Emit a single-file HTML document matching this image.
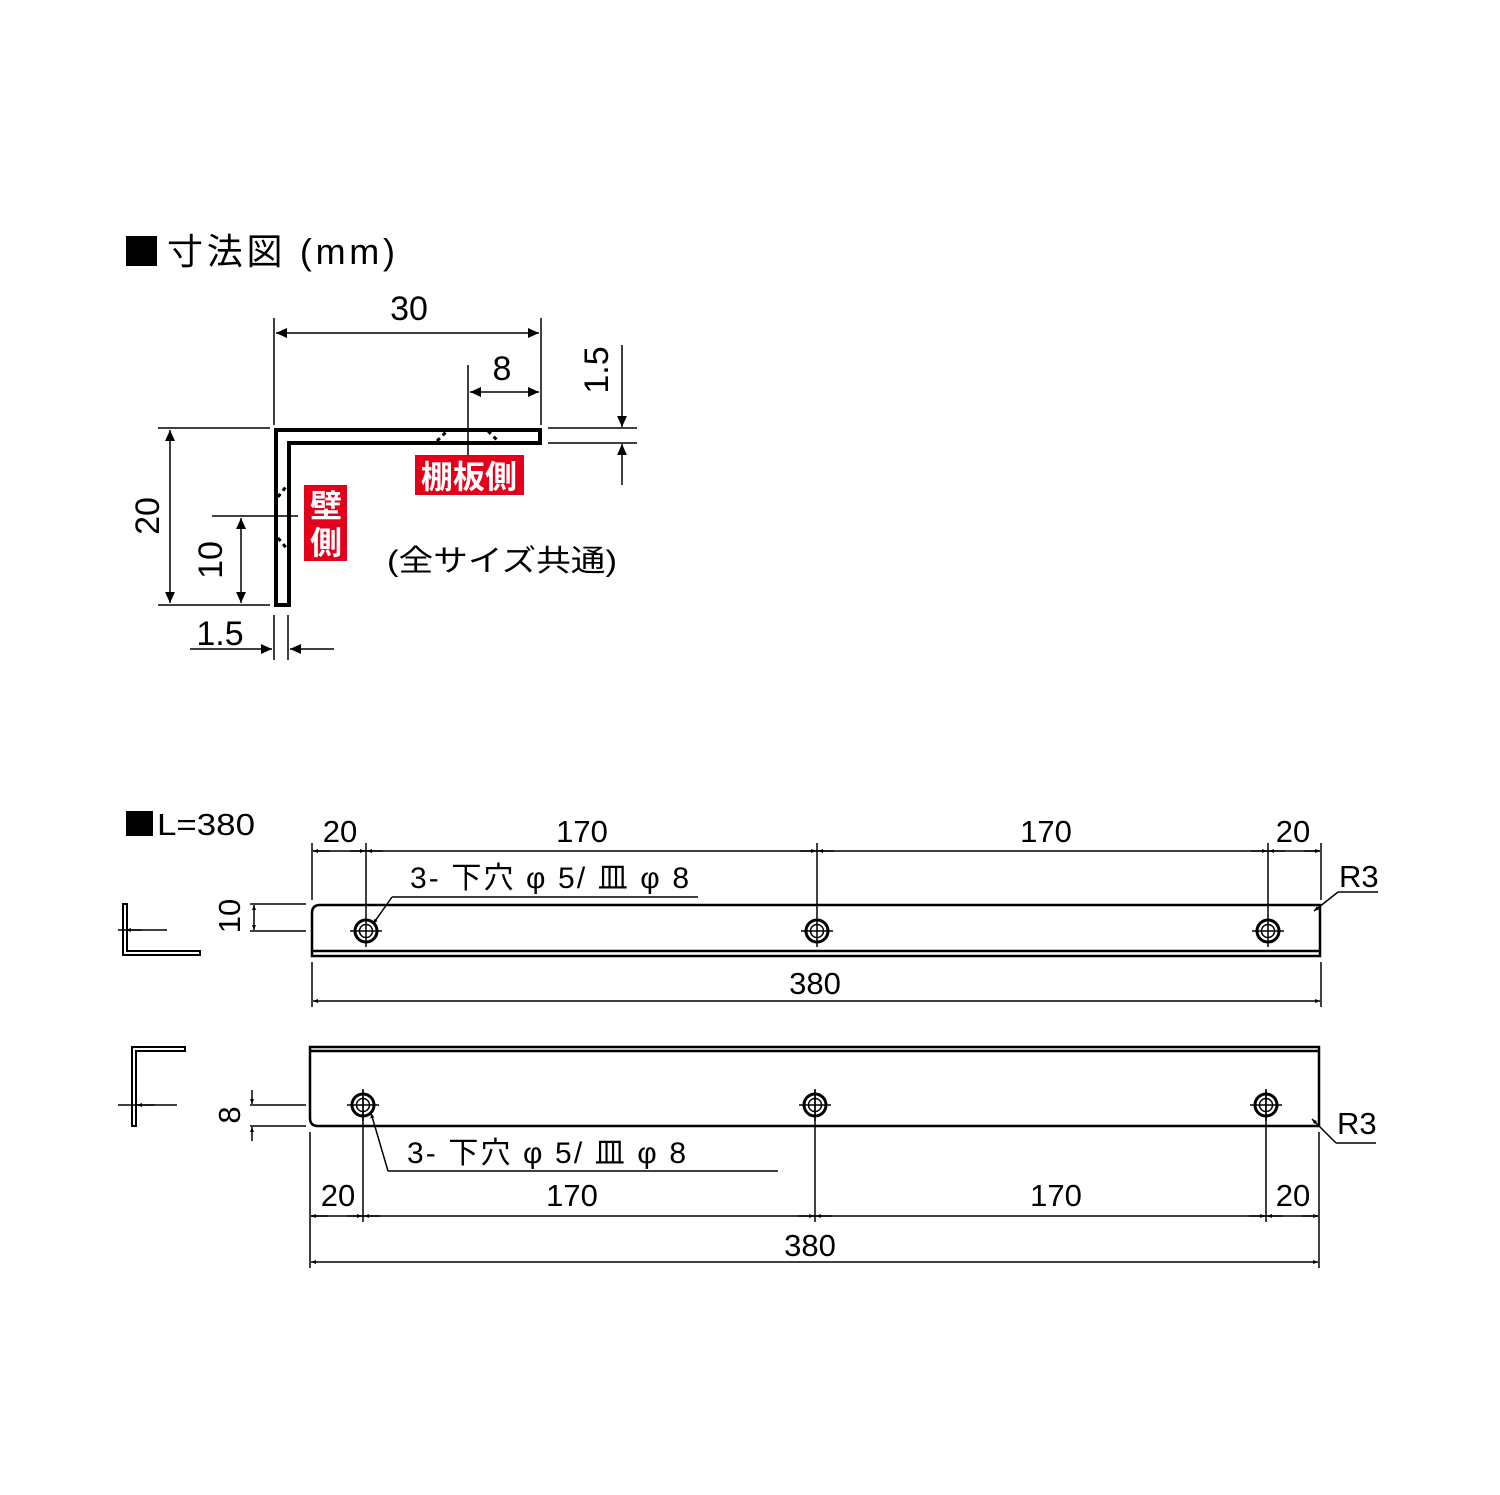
<!DOCTYPE html>
<html><head><meta charset="utf-8"><style>
html,body{margin:0;padding:0;background:#fff;}
svg{display:block;}
text{font-family:"Liberation Sans","Noto Sans CJK JP",sans-serif;fill:#000;}
</style></head><body>
<svg width="1500" height="1495" viewBox="0 0 1500 1495" xmlns="http://www.w3.org/2000/svg">
<defs>
<marker id="a" viewBox="0 0 10 10" refX="10" refY="5" markerWidth="22" markerHeight="11" markerUnits="userSpaceOnUse" orient="auto-start-reverse"><path d="M0,0.5 L10,5 L0,9.5 Z" fill="#000"/></marker>
<marker id="s" viewBox="0 0 10 10" refX="10" refY="5" markerWidth="12" markerHeight="5" markerUnits="userSpaceOnUse" orient="auto-start-reverse"><path d="M0,1 L10,5 L0,9 Z" fill="#000"/></marker>
</defs>
<!-- Title -->
<rect x="126" y="236" width="31" height="30" fill="#000"/>
<text x="167" y="264" font-size="36" textLength="228" lengthAdjust="spacing">寸法図 (mm)</text>

<!-- Top profile -->
<g stroke="#000" fill="none">
<path d="M276,430 H540 V443 H289 V605 H276 Z" stroke-width="4"/>
<g stroke-width="1.5">
<line x1="274" y1="318" x2="274" y2="425"/>
<line x1="541" y1="318" x2="541" y2="425"/>
<line x1="276" y1="333" x2="539" y2="333" marker-start="url(#a)" marker-end="url(#a)"/>
<line x1="468" y1="365" x2="468" y2="458"/>
<line x1="470" y1="392" x2="539" y2="392" marker-start="url(#a)" marker-end="url(#a)"/>
<line x1="548" y1="428" x2="637" y2="428"/>
<line x1="548" y1="443" x2="637" y2="443"/>
<line x1="622" y1="345" x2="622" y2="427" marker-end="url(#a)"/>
<line x1="622" y1="485" x2="622" y2="444" marker-end="url(#a)"/>
<line x1="158" y1="428" x2="270" y2="428"/>
<line x1="158" y1="605" x2="270" y2="605"/>
<line x1="170" y1="430" x2="170" y2="603" marker-start="url(#a)" marker-end="url(#a)"/>
<line x1="212" y1="516" x2="298" y2="516"/>
<line x1="241" y1="518" x2="241" y2="603" marker-start="url(#a)" marker-end="url(#a)"/>
<line x1="274" y1="615" x2="274" y2="660"/>
<line x1="288" y1="615" x2="288" y2="660"/>
<line x1="190" y1="649" x2="272" y2="649" marker-end="url(#a)"/>
<line x1="334" y1="649" x2="290" y2="649" marker-end="url(#a)"/>
</g>
<g stroke-width="3" stroke-dasharray="4,4">
<line x1="437" y1="441" x2="448" y2="430"/>
<line x1="488" y1="431" x2="499" y2="442"/>
<line x1="278" y1="497" x2="288" y2="484"/>
<line x1="278" y1="538" x2="288" y2="550"/>
</g>
</g>
<text x="409" y="320" font-size="34" text-anchor="middle">30</text>
<text x="502" y="380" font-size="34" text-anchor="middle">8</text>
<text transform="translate(608,370) rotate(-90)" font-size="34" text-anchor="middle">1.5</text>
<text transform="translate(159,516) rotate(-90)" font-size="34" text-anchor="middle">20</text>
<text transform="translate(222,560) rotate(-90)" font-size="34" text-anchor="middle">10</text>
<text x="220" y="645" font-size="34" text-anchor="middle">1.5</text>
<rect x="415" y="455" width="109" height="40" fill="#e2001a"/>
<text x="469" y="488" font-size="32" font-weight="bold" text-anchor="middle" style="fill:#fff">棚板側</text>
<rect x="304" y="485" width="43" height="76" fill="#e2001a"/>
<text x="326" y="517" font-size="32" font-weight="bold" text-anchor="middle" style="fill:#fff">壁</text>
<text x="326" y="554" font-size="32" font-weight="bold" text-anchor="middle" style="fill:#fff">側</text>
<text x="387" y="571" font-size="30" textLength="230" lengthAdjust="spacingAndGlyphs">(全サイズ共通)</text>

<!-- L=380 -->
<rect x="126" y="811" width="27" height="25" fill="#000"/>
<text x="157" y="835" font-size="31" textLength="98" lengthAdjust="spacingAndGlyphs">L=380</text>

<!-- View 1 -->
<g stroke="#000" fill="none">
<path d="M312,956 V913 Q312,905 320,905 H1320 V956 Z" stroke-width="2.5"/>
<line x1="312" y1="951" x2="1320" y2="951" stroke-width="2.5"/>
<path d="M123,904 V955 H200 V951 H127 V904 Z" stroke-width="2"/>
<g stroke-width="1.5">
<line x1="118" y1="930" x2="167" y2="930"/>
<line x1="142" y1="930" x2="126" y2="930" marker-end="url(#s)"/>
<line x1="312" y1="843" x2="312" y2="900"/>
<line x1="366" y1="843" x2="366" y2="915"/>
<line x1="817" y1="843" x2="817" y2="915"/>
<line x1="1268" y1="843" x2="1268" y2="915"/>
<line x1="1321" y1="843" x2="1321" y2="900"/>
<line x1="313" y1="851" x2="1320" y2="851"/>
<line x1="330" y1="851" x2="313" y2="851" marker-end="url(#s)"/>
<line x1="350" y1="851" x2="365" y2="851" marker-end="url(#s)"/>
<line x1="383" y1="851" x2="367" y2="851" marker-end="url(#s)"/>
<line x1="800" y1="851" x2="816" y2="851" marker-end="url(#s)"/>
<line x1="834" y1="851" x2="818" y2="851" marker-end="url(#s)"/>
<line x1="1251" y1="851" x2="1267" y2="851" marker-end="url(#s)"/>
<line x1="1285" y1="851" x2="1269" y2="851" marker-end="url(#s)"/>
<line x1="1304" y1="851" x2="1320" y2="851" marker-end="url(#s)"/>
<line x1="312" y1="962" x2="312" y2="1007"/>
<line x1="1321" y1="962" x2="1321" y2="1007"/>
<line x1="313" y1="1001" x2="1320" y2="1001" marker-start="url(#s)" marker-end="url(#s)"/>
<line x1="250" y1="904" x2="306" y2="904"/>
<line x1="250" y1="931" x2="306" y2="931"/>
<line x1="254" y1="905" x2="254" y2="930" marker-start="url(#s)" marker-end="url(#s)"/>
<line x1="392" y1="897" x2="698" y2="897"/>
<line x1="392" y1="897" x2="373" y2="924" marker-end="url(#s)"/>
<line x1="1338" y1="892" x2="1378" y2="892"/>
<line x1="1338" y1="892" x2="1314" y2="911" marker-end="url(#s)"/>
</g>
</g>
<text x="340" y="842" font-size="31" text-anchor="middle">20</text>
<text x="582" y="842" font-size="31" text-anchor="middle">170</text>
<text x="1046" y="842" font-size="31" text-anchor="middle">170</text>
<text x="1293" y="842" font-size="31" text-anchor="middle">20</text>
<text x="815" y="994" font-size="31" text-anchor="middle">380</text>
<text x="410" y="888" font-size="30" textLength="279" lengthAdjust="spacing">3- 下穴 φ 5/ 皿 φ 8</text>
<text x="1339" y="887" font-size="31">R3</text>
<text transform="translate(240,916) rotate(-90)" font-size="31" text-anchor="middle">10</text>

<!-- View 2 -->
<g stroke="#000" fill="none">
<path d="M310,1047 H1319 V1126 H318 Q310,1126 310,1118 Z" stroke-width="2.5"/>
<line x1="310" y1="1051" x2="1319" y2="1051" stroke-width="2.5"/>
<path d="M132,1126 V1047 H185 V1051 H136 V1126 Z" stroke-width="2"/>
<g stroke-width="1.5">
<line x1="118" y1="1105" x2="177" y2="1105"/>
<line x1="155" y1="1105" x2="137" y2="1105" marker-end="url(#s)"/>
<line x1="310" y1="1132" x2="310" y2="1268"/>
<line x1="1319" y1="1132" x2="1319" y2="1268"/>
<line x1="363" y1="1090" x2="363" y2="1222"/>
<line x1="815" y1="1090" x2="815" y2="1222"/>
<line x1="1266" y1="1090" x2="1266" y2="1222"/>
<line x1="311" y1="1216" x2="1318" y2="1216"/>
<line x1="328" y1="1216" x2="311" y2="1216" marker-end="url(#s)"/>
<line x1="347" y1="1216" x2="362" y2="1216" marker-end="url(#s)"/>
<line x1="380" y1="1216" x2="364" y2="1216" marker-end="url(#s)"/>
<line x1="798" y1="1216" x2="814" y2="1216" marker-end="url(#s)"/>
<line x1="832" y1="1216" x2="816" y2="1216" marker-end="url(#s)"/>
<line x1="1249" y1="1216" x2="1265" y2="1216" marker-end="url(#s)"/>
<line x1="1283" y1="1216" x2="1267" y2="1216" marker-end="url(#s)"/>
<line x1="1302" y1="1216" x2="1318" y2="1216" marker-end="url(#s)"/>
<line x1="311" y1="1262" x2="1318" y2="1262" marker-start="url(#s)" marker-end="url(#s)"/>
<line x1="250" y1="1105" x2="306" y2="1105"/>
<line x1="250" y1="1126" x2="306" y2="1126"/>
<line x1="252" y1="1090" x2="252" y2="1104" marker-end="url(#s)"/>
<line x1="252" y1="1141" x2="252" y2="1127" marker-end="url(#s)"/>
<line x1="388" y1="1171" x2="778" y2="1171"/>
<line x1="388" y1="1171" x2="371" y2="1113" marker-end="url(#s)"/>
<line x1="1336" y1="1143" x2="1376" y2="1143"/>
<line x1="1336" y1="1143" x2="1312" y2="1119" marker-end="url(#s)"/>
</g>
</g>
<text x="338" y="1206" font-size="31" text-anchor="middle">20</text>
<text x="572" y="1206" font-size="31" text-anchor="middle">170</text>
<text x="1056" y="1206" font-size="31" text-anchor="middle">170</text>
<text x="1293" y="1206" font-size="31" text-anchor="middle">20</text>
<text x="810" y="1256" font-size="31" text-anchor="middle">380</text>
<text x="407" y="1163" font-size="30" textLength="279" lengthAdjust="spacing">3- 下穴 φ 5/ 皿 φ 8</text>
<text x="1337" y="1134" font-size="31">R3</text>
<text transform="translate(240,1115) rotate(-90)" font-size="31" text-anchor="middle">8</text>

<!-- Holes -->
<g stroke="#000" fill="none">
<g transform="translate(366,931)"><circle r="11" stroke-width="3"/><circle r="6.5" stroke-width="1.5"/><line x1="-16" x2="16" stroke-width="1.5"/><line y1="-16" y2="16" stroke-width="1.5"/></g>
<g transform="translate(817,931)"><circle r="11" stroke-width="3"/><circle r="6.5" stroke-width="1.5"/><line x1="-16" x2="16" stroke-width="1.5"/><line y1="-16" y2="16" stroke-width="1.5"/></g>
<g transform="translate(1268,931)"><circle r="11" stroke-width="3"/><circle r="6.5" stroke-width="1.5"/><line x1="-16" x2="16" stroke-width="1.5"/><line y1="-16" y2="16" stroke-width="1.5"/></g>
<g transform="translate(363,1105)"><circle r="11" stroke-width="3"/><circle r="6.5" stroke-width="1.5"/><line x1="-16" x2="16" stroke-width="1.5"/><line y1="-16" y2="16" stroke-width="1.5"/></g>
<g transform="translate(815,1105)"><circle r="11" stroke-width="3"/><circle r="6.5" stroke-width="1.5"/><line x1="-16" x2="16" stroke-width="1.5"/><line y1="-16" y2="16" stroke-width="1.5"/></g>
<g transform="translate(1266,1105)"><circle r="11" stroke-width="3"/><circle r="6.5" stroke-width="1.5"/><line x1="-16" x2="16" stroke-width="1.5"/><line y1="-16" y2="16" stroke-width="1.5"/></g>
</g>
</svg>
</body></html>
